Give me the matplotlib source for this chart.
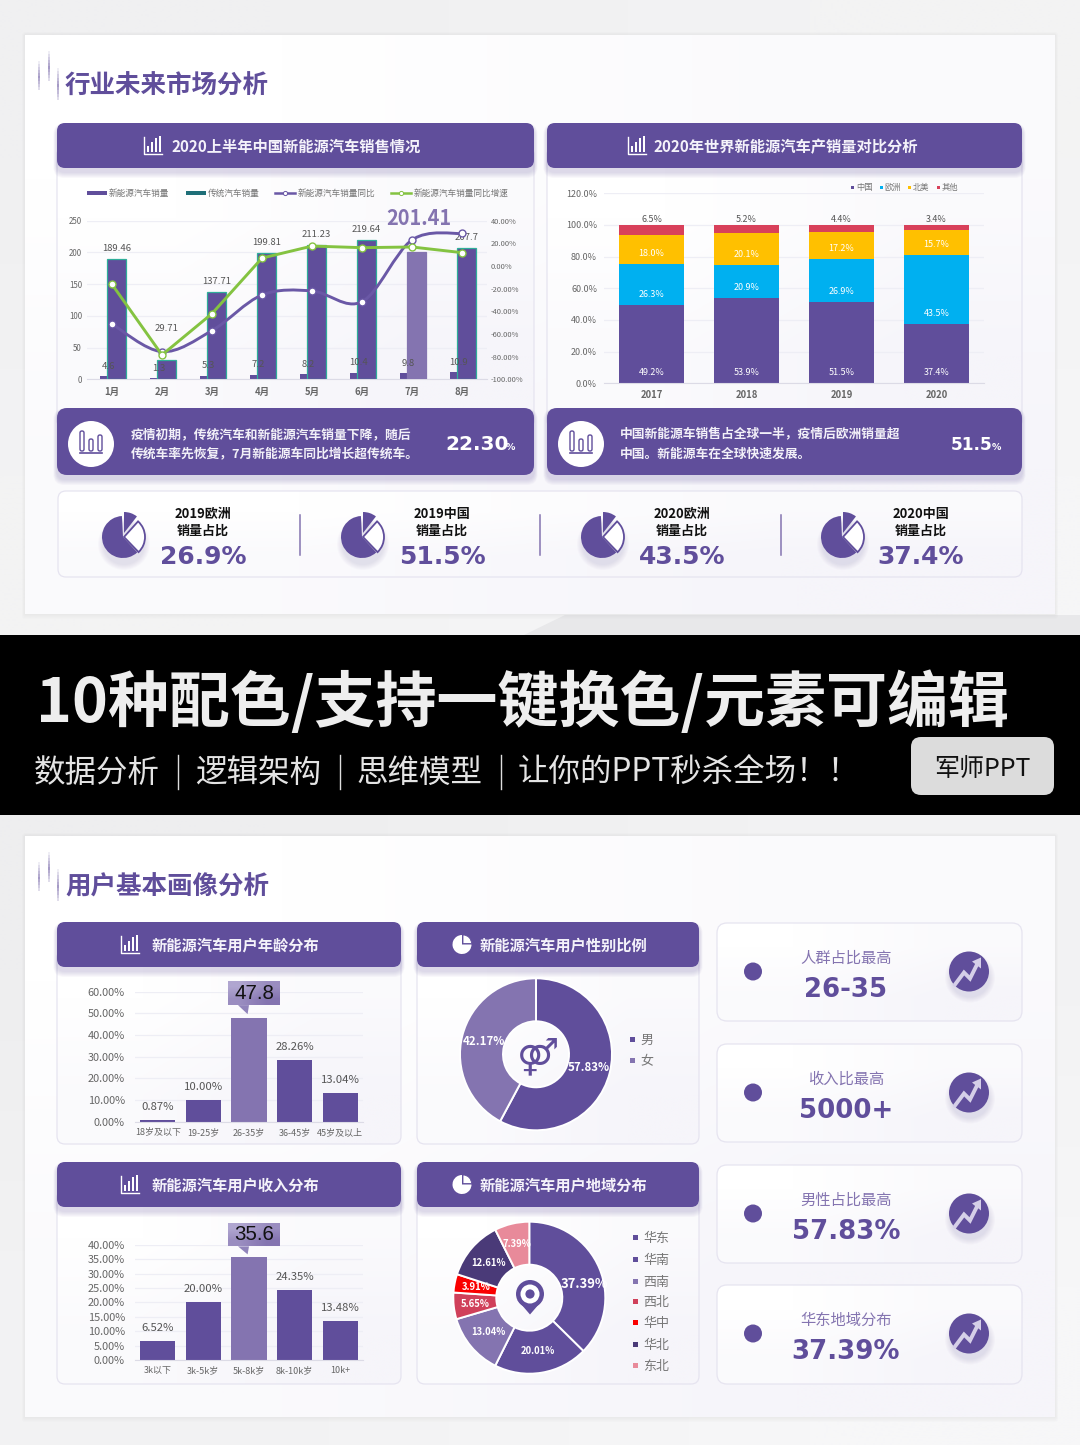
import numpy as np
import matplotlib
matplotlib.use("Agg")
import matplotlib.pyplot as plt
from matplotlib.patches import FancyBboxPatch, Circle, Wedge, Polygon, Rectangle, PathPatch
from matplotlib.path import Path
from matplotlib.colors import to_rgb

plt.rcParams['font.family'] = ['Noto Sans CJK SC', 'DejaVu Sans']

PURPLE = '#604e9b'
LIGHT = '#8474b0'
GREY = '#666666'

# chart 1
months = ['1月', '2月', '3月', '4月', '5月', '6月', '7月', '8月']
ev_sales = [4.6, 1.3, 5.3, 7.2, 8.2, 10.4, 9.8, 10.9]
car_sales = [189.46, 29.71, 137.71, 199.81, 211.23, 219.64, 201.41, 207.7]
ev_yoy = [-51.2, -75.6, -57.0, -25.6, -22.0, -31.5, 23.0, 28.8]
ev_growth = [-16.2, -78.5, -42.0, 7.0, 17.6, 16.2, 16.8, 11.8]

# chart 2
years = ['2017', '2018', '2019', '2020']
china = [49.2, 53.9, 51.5, 37.4]
europe = [26.3, 20.9, 26.9, 43.5]
namerica = [18.0, 20.1, 17.2, 15.7]
others = [6.5, 5.2, 4.4, 3.4]
stack_names = ['中国', '欧洲', '北美', '其他']
stack_colors = [PURPLE, '#00b0f0', '#ffc000', '#d8405a']

# bottom charts
age_cats = ['18岁及以下', '19-25岁', '26-35岁', '36-45岁', '45岁及以上']
age_vals = [0.87, 10.00, 47.8, 28.26, 13.04]
income_cats = ['3k以下', '3k-5k岁', '5k-8k岁', '8k-10k岁', '10k+']
income_vals = [6.52, 20.00, 35.6, 24.35, 13.48]
gender_names = ['男', '女']
gender_vals = [57.83, 42.17]
region_names = ['华东', '华南', '西南', '西北', '华中', '华北', '东北']
region_vals = [37.39, 20.01, 13.04, 5.65, 3.91, 12.61, 7.39]
region_colors = [PURPLE, PURPLE, LIGHT, '#d0405a', '#fa0000', '#4a3a78', '#e88a9a']

# strips
strip_labels = [('2019欧洲', '26.9%'), ('2019中国', '51.5%'), ('2020欧洲', '43.5%'), ('2020中国', '37.4%')]
card_labels = [('人群占比最高', '26-35'), ('收入比最高', '5000+'), ('男性占比最高', '57.83%'), ('华东地域分布', '37.39%')]

W, H = 1080, 1445
fig = plt.figure(figsize=(W / 100, H / 100), dpi=100)


def overlay(z):
    a = fig.add_axes([0, 0, 1, 1], zorder=z)
    a.set_xlim(0, W)
    a.set_ylim(H, 0)
    a.axis('off')
    a.patch.set_alpha(0)
    a.set_autoscale_on(False)
    return a


bg = overlay(0)
top = overlay(5)


def chart_axes(x0, y0, x1, y1):
    a = fig.add_axes([x0 / W, 1 - y1 / H, (x1 - x0) / W, (y1 - y0) / H], zorder=2)
    a.patch.set_alpha(0)
    return a


def T(a, x, y, s, px, color='white', weight='normal', ha='center', va='center', **kw):
    # the CJK face sits high in its box
    if 'family' not in kw:
        y = y + 0.08 * px
    return a.text(x, y, s, fontsize=px * 0.72, color=color, fontweight=weight, ha=ha, va=va, **kw)


def rbox(a, x0, y0, x1, y1, r=8, fc='white', ec='none', lw=0, alpha=None, z=1):
    p = FancyBboxPatch((x0, y0), x1 - x0, y1 - y0, boxstyle='round,pad=0,rounding_size=%g' % r,
                       fc=fc, ec=ec, lw=lw, alpha=alpha, zorder=z)
    a.add_patch(p)
    return p


def gradient(a, x0, y0, x1, y1, c0, c1, r=0, z=1):
    c0, c1 = np.array(to_rgb(c0)), np.array(to_rgb(c1))
    arr = np.array([[c0, (c0 + c1) / 2], [(c0 + c1) / 2, c1]])
    im = a.imshow(arr, extent=(x0, x1, y1, y0), aspect='auto', interpolation='bilinear', zorder=z)
    if r:
        clip = FancyBboxPatch((x0, y0), x1 - x0, y1 - y0, boxstyle='round,pad=0,rounding_size=%g' % r,
                              fc='none', ec='none', transform=a.transData)
        a.add_patch(clip)
        im.set_clip_path(clip)
    return im


def shadow(a, x0, y0, x1, y1, dy=4, spread=6, r=8, z=1, col='#5a4a9a', alpha=0.035):
    for s in range(spread, 0, -1):
        rbox(a, x0 - s * 0.6, y0 + dy - s * 0.6, x1 + s * 0.6, y1 + dy + s, r=r + s * 0.5, fc=col, alpha=alpha, z=z)


def card(x0, y0, x1, y1, r=8, z=1.5):
    gradient(bg, x0, y0, x1, y1, '#ffffff', '#f6f5fa', r=r, z=z)
    rbox(bg, x0, y0, x1, y1, r=r, fc='none', ec='#e6e4f0', lw=0.9, z=z + 0.1)


def vwedge(a, cx, cy, r, a1, a2, **kw):
    # angles as seen on screen, the pixel axes are flipped
    p = Wedge((cx, cy), r, -a2, -a1, **kw)
    a.add_patch(p)
    return p


def header(x0, y0, x1, y1, text, tx, ix, icon='bar', size=15.3):
    shadow(bg, x0, y0, x1, y1, z=3)
    rbox(bg, x0, y0, x1, y1, r=8, fc=PURPLE, z=3.2)
    cy = (y0 + y1) / 2
    T(bg, tx, cy, text, size, weight='bold', ha='left', zorder=4, color='#f4f2fa')
    if icon == 'bar':
        bg.plot([ix - 9, ix - 9, ix + 9], [cy - 9, cy + 8, cy + 8], color='white', lw=1, zorder=4)
        for dx, h in [(-5, 6), (-1, 10), (3, 14), (7, 16)]:
            bg.add_patch(Rectangle((ix + dx - 1, cy + 6 - h), 2.2, h, fc='white', zorder=4))
    else:
        vwedge(bg, ix, cy, 9.5, 90, 360, fc='white', zorder=4)
        vwedge(bg, ix + 1, cy - 1, 8.5, 0, 90, fc='white', ec=PURPLE, lw=0.6, zorder=4)


def section_title(y, text):
    for x, y0, y1 in [(39, y - 23, y + 6), (49, y - 33, y - 3), (58, y - 16, y + 16)]:
        for i in range(10):
            bg.plot([x, x], [y0 + (y1 - y0) * i / 10, y0 + (y1 - y0) * (i + 1) / 10], color='#7a6bab',
                    lw=1.3, alpha=0.75 * (1 - abs(i - 5) / 6), solid_capstyle='butt', zorder=2)
    T(bg, 65, y, text, 25.5, color=PURPLE, weight='bold', ha='left', zorder=3)


def style_axes(a, ymax, step, ylab_px, xlab_px, xweight='normal', pad_y=5, pad_x=4, fmt='%.2f%%'):
    ticks = np.arange(0, ymax + step / 2, step)
    a.set_ylim(0, ymax)
    a.set_yticks(ticks)
    a.set_yticklabels([fmt % t for t in ticks], fontsize=ylab_px * 0.72, color=GREY)
    a.tick_params(axis='y', length=0, pad=pad_y * 0.72)
    a.tick_params(axis='x', length=0, pad=pad_x * 0.72, labelsize=xlab_px * 0.72, labelcolor=GREY)
    for lab in a.get_xticklabels():
        lab.set_fontweight(xweight)
    a.grid(axis='y', color='#eeeef5', lw=0.9)
    a.set_axisbelow(True)
    for k in ['top', 'left', 'right']:
        a.spines[k].set_visible(False)
    a.spines['bottom'].set_color('#dcdbe6')


def to_px(a, x, y):
    fx, fy = a.transData.transform((x, y))
    return fx, H - fy


def smooth_path(xs, ys):
    # catmull-rom through the points, same look as an office "smoothed" line
    verts = [(xs[0], ys[0])]
    codes = [Path.MOVETO]
    n = len(xs)
    for i in range(n - 1):
        p0 = (xs[max(i - 1, 0)], ys[max(i - 1, 0)])
        p1 = (xs[i], ys[i])
        p2 = (xs[i + 1], ys[i + 1])
        p3 = (xs[min(i + 2, n - 1)], ys[min(i + 2, n - 1)])
        c1 = (p1[0] + (p2[0] - p0[0]) / 6, p1[1] + (p2[1] - p0[1]) / 6)
        c2 = (p2[0] - (p3[0] - p1[0]) / 6, p2[1] - (p3[1] - p1[1]) / 6)
        verts += [c1, c2, p2]
        codes += [Path.CURVE4] * 3
    return Path(verts, codes)


# page background
bg.add_patch(Rectangle((0, 0), W, H, fc='#f3f3f4', zorder=0))
gradient(bg, 0, 0, W, 635, '#f0f0f1', '#f6f6f7', z=0.1)
bg.add_patch(Polygon([(524, 635), (565, 615), (W, 615), (W, 635)], fc='#e8e8ea', zorder=0.2))
gradient(bg, 0, 815, W, H, '#eeeeef', '#f7f7f8', z=0.1)
bg.add_patch(Rectangle((0, 635), W, 180, fc='black', zorder=6))

for y0, y1 in [(35, 614), (836, 1417)]:
    shadow(bg, 25, y0, 1055, y1, dy=0, spread=5, r=1, z=0.5, col='#cccccc', alpha=0.05)
    gradient(bg, 25, y0, 1055, y1, '#ffffff', '#f6f5fa', z=1)

section_title(84, '行业未来市场分析')
section_title(885, '用户基本画像分析')

# ---- black band
T(bg, 36, 698, '10种配色/支持一键换色/元素可编辑', 61, color='#eeeeee', weight='bold', ha='left', zorder=7)
for x, s in [(34, '数据分析'), (195, '逻辑架构'), (357, '思维模型'), (518, '让你的PPT秒杀全场！！')]:
    T(bg, x, 770, s, 31.5, color='#e4e4e4', weight='normal', ha='left', zorder=7)
for x in [178, 340, 501]:
    bg.plot([x, x], [755, 789], color='#dddddd', lw=1, zorder=7)
rbox(bg, 911, 737, 1054, 795, r=10, fc='#dcdcdc', z=7)
T(bg, 982, 767, '军师PPT', 25, color='#111111', zorder=8)

# ---- top panels
card(57, 150, 534, 425, r=4)
card(547, 150, 1022, 425, r=4)
header(57, 123, 534, 168, '2020上半年中国新能源汽车销售情况', 171, 153)
header(547, 123, 1022, 168, '2020年世界新能源汽车产销量对比分析', 653, 637)

# chart 1, bars and lines
ax1 = chart_axes(87, 220.7, 487, 379.3)
x = np.arange(len(months))
ax1.bar(x - 0.05, ev_sales, width=0.375, color=PURPLE, zorder=2)
bar_cols = [LIGHT if m == '7月' else PURPLE for m in months]
bars = ax1.bar(x + 0.09, car_sales, width=0.375, color=bar_cols, edgecolor='#2fae9a', lw=0.9, zorder=3)
bars[6].set_edgecolor(LIGHT)
ax1.set_xlim(-0.5, 7.5)
ax1.set_xticks(x)
ax1.set_xticklabels(months, fontweight='bold')
style_axes(ax1, 250, 50, 8, 9.5, xweight='bold', fmt='%d', pad_x=7.5)
for i, v in enumerate(car_sales):
    if months[i] == '7月':
        ax1.annotate('%.2f' % v, (i + 0.13, v), xytext=(0, 33 * 0.72), textcoords='offset points', ha='center',
                     va='center', fontsize=20 * 0.72, fontweight='bold', color=LIGHT, zorder=8)
    else:
        off = 32 if months[i] == '2月' else 10.5
        ax1.annotate('%g' % v, (i + 0.09, v), xytext=(0, off * 0.72), textcoords='offset points', ha='center',
                     va='center', fontsize=9.5 * 0.72, color='#555555', zorder=8)
for i, v in enumerate(ev_sales):
    ax1.annotate('%g' % v, (i - 0.07, v), xytext=(0, 10 * 0.72), textcoords='offset points', ha='center',
                 va='center', fontsize=9.5 * 0.72, color='#555555', zorder=8)

ax1b = ax1.twinx()
ax1b.patch.set_alpha(0)
ax1b.set_ylim(-100, 40)
rt = np.arange(-100, 41, 20)
ax1b.set_yticks(rt)
ax1b.set_yticklabels(['%.2f%%' % t for t in rt], fontsize=7.5 * 0.72, color=GREY)
ax1b.tick_params(axis='y', length=0, pad=4 * 0.72)
for k in ax1b.spines:
    ax1b.spines[k].set_visible(False)
ax1b.add_patch(PathPatch(smooth_path(x, ev_yoy), fc='none', ec='#6a58a6', lw=2.1, zorder=4))
ax1b.plot(x, ev_yoy, ls='none', marker='o', ms=5, mfc='white', mec='#6a58a6', mew=1, zorder=5)
ax1b.plot(x, ev_growth, color='#84c341', lw=2.1, marker='o', ms=5, mfc='white', mec='#84c341', mew=1, zorder=6)

# chart 1 legend
ly = 193
top.add_patch(Rectangle((87, ly - 2), 20, 4, fc=PURPLE))
top.add_patch(Rectangle((186, ly - 2), 20, 4, fc='#1f6f78'))
top.plot([275, 295], [ly, ly], color='#6a58a6', lw=1.8, marker='', zorder=2)
top.plot([285], [ly], marker='o', ms=3, mfc='white', mec='#6a58a6', mew=0.7, zorder=3)
top.plot([391, 411], [ly, ly], color='#84c341', lw=1.8, zorder=2)
top.plot([401], [ly], marker='o', ms=3, mfc='white', mec='#84c341', mew=0.7, zorder=3)
for lx, s in [(109, '新能源汽车销量'), (208, '传统汽车销量'), (298, '新能源汽车销量同比'), (414, '新能源汽车销量同比增速')]:
    T(top, lx, ly, s, 8.7, color='#777777', ha='left')

# chart 2, stacked
ax2 = chart_axes(604, 193.3, 984, 383.3)
x2 = np.arange(len(years))
base = np.zeros(4)
for vals, col, name in zip([china, europe, namerica, others], stack_colors, stack_names):
    ax2.bar(x2, vals, bottom=base, width=0.674, color=col, zorder=2, label=name)
    for i, v in enumerate(vals):
        if name == '其他':
            ax2.annotate('%.1f%%' % v, (i, 100), xytext=(0, 5 * 0.72), textcoords='offset points', ha='center',
                         va='center', fontsize=9 * 0.72, color='#555555')
        else:
            ax2.annotate('%.1f%%' % v, (i, base[i]), xytext=(0, 10.5 * 0.72), textcoords='offset points', ha='center',
                         va='center', fontsize=9 * 0.72, color='white', zorder=4)
    base = base + np.array(vals)
ax2.set_xlim(-0.5, 3.5)
ax2.set_xticks(x2)
ax2.set_xticklabels(years, fontweight='bold')
style_axes(ax2, 120, 20, 9, 9.5, xweight='bold', pad_y=7, fmt='%.1f%%', pad_x=6.5)

for lx, col, s in zip([852.7, 881, 909.7, 938], stack_colors, stack_names):
    top.add_patch(Rectangle((lx - 1.5, 185.5), 3, 3, fc=col))
    T(top, lx + 3.5, 187, s, 8.3, color='#777777', ha='left')

# purple note boxes
notes = [(57, 534, 91, 131, ['疫情初期，传统汽车和新能源汽车销量下降，随后', '传统车率先恢复，7月新能源车同比增长超传统车。'], '22.30', 445, 506, 20),
         (547, 1022, 581, 620, ['中国新能源车销售占全球一半，疫情后欧洲销量超', '中国。新能源车在全球快速发展。'], '51.5', 951, 992, 17)]
for x0, x1, cx, tx, lines, num, nx, px, nsize in notes:
    shadow(bg, x0, 408, x1, 475, z=3)
    rbox(bg, x0, 408, x1, 475, r=10, fc=PURPLE, z=3.2)
    bg.add_patch(Circle((cx, 444), 23, fc='white', zorder=4))
    for dx, h in [(-9, 20), (0, 12), (9, 16)]:
        rbox(bg, cx + dx - 2, 451 - h, cx + dx + 2, 451, r=1.8, fc='none', ec=PURPLE, lw=1, z=5)
    bg.plot([cx - 11, cx + 11], [453, 453], color=PURPLE, lw=1.2, zorder=5)
    T(bg, tx, 434, lines[0], 12.8, weight='bold', ha='left', zorder=5, color='#f2f0f8')
    T(bg, tx, 453, lines[1], 12.8, weight='bold', ha='left', zorder=5, color='#f2f0f8')
    T(bg, nx, 445, num, nsize, weight='bold', ha='left', zorder=5, family='DejaVu Sans')
    T(bg, px, 447, '%', 9.5, weight='bold', ha='left', zorder=5, family='DejaVu Sans')

# stat strip
card(58, 491, 1022, 577, r=8)
for cx, tx, (a, b) in zip([123, 362, 602, 842], [203, 442, 682, 921], strip_labels):
    for s in range(6, 0, -1):
        bg.add_patch(Circle((cx + 1, 544), 20 + s, fc='#5a4a9a', alpha=0.025, zorder=2))
    vwedge(bg, cx, 537, 21, 93, 313, fc=PURPLE, zorder=3)
    vwedge(bg, cx + 1, 533, 21, 52, 90, fc=PURPLE, zorder=3)
    vwedge(bg, cx + 1, 537, 21, -46, 48, fc='white', ec=PURPLE, lw=1.3, zorder=3)
    T(bg, tx, 513, a, 13, color='#111111', weight='bold', zorder=3)
    T(bg, tx, 530, '销量占比', 13, color='#111111', weight='bold', zorder=3)
    T(bg, tx, 557, b, 25, color=PURPLE, weight='bold', zorder=3, family='DejaVu Sans')
for dx in [300, 540, 781]:
    bg.plot([dx, dx], [515, 555], color=LIGHT, lw=1.1, zorder=3)

# ---- bottom panels
for x0, x1, y0, y1 in [(57, 401, 950, 1144), (417, 699, 950, 1144), (57, 401, 1190, 1384), (417, 699, 1190, 1384)]:
    card(x0, y0, x1, y1, r=8)
header(57, 922, 401, 967, '新能源汽车用户年龄分布', 152, 130)
header(417, 922, 699, 967, '新能源汽车用户性别比例', 480, 462, icon='pie')
header(57, 1162, 401, 1207, '新能源汽车用户收入分布', 152, 130)
header(417, 1162, 699, 1207, '新能源汽车用户地域分布', 480, 462, icon='pie')


def simple_bars(box, cats, vals, ymax, step, tip, box_top, box_bot):
    a = chart_axes(*box)
    xs = np.arange(len(cats))
    cols = [LIGHT if i == 2 else PURPLE for i in xs]
    a.bar(xs, vals, width=0.77, color=cols, zorder=2)
    a.set_xlim(-0.5, 4.5)
    a.set_xticks(xs)
    a.set_xticklabels(cats)
    style_axes(a, ymax, step, 11, 9, pad_y=10, pad_x=6)
    for i, v in enumerate(vals):
        if i != 2:
            a.annotate('%.2f%%' % v, (i, v), xytext=(0, 13 * 0.72), textcoords='offset points', ha='center',
                       va='center', fontsize=11.3 * 0.72, color='#555555')
    px_x, px_y = to_px(a, 2, vals[2])
    gradient(top, px_x - 21, px_y - box_top, px_x + 31, px_y - box_bot, '#b0a6d0', '#8474b0', z=3)
    top.add_patch(Polygon([(px_x - 11, px_y - box_bot), (px_x, px_y - box_bot), (px_x - 1.4, px_y - tip)],
                          fc='#9184bb', zorder=3))
    T(top, px_x + 5, px_y - (box_top + box_bot) / 2, '%.1f' % vals[2], 20.5, color='#111111',
      family='Liberation Sans', zorder=4)
    return a


ax3 = simple_bars((135, 991.7, 363, 1121.7), age_cats, age_vals, 60, 10, 4, 37, 13)
ax4 = simple_bars((135, 1244.7, 363, 1360), income_cats, income_vals, 40, 5, 3, 34, 11)


def donut(cx, cy, r, hole, vals, cols):
    a = chart_axes(cx - r, cy - r, cx + r, cy + r)
    w, t, at = a.pie(vals, colors=cols, startangle=90, counterclock=False, autopct='%.2f%%', pctdistance=0.71,
                     wedgeprops=dict(width=1 - hole / r, edgecolor='white', linewidth=1.4),
                     textprops=dict(color='white', fontweight='bold'))
    a.set_xlim(-1, 1)
    a.set_ylim(-1, 1)
    return a, at


ax5, at5 = donut(536, 1054.3, 76, 33, gender_vals, [PURPLE, LIGHT])
for lab in at5:
    lab.set_fontsize(11.5 * 0.72)
T(top, 538, 1056, '⚤', 36, color=PURPLE, weight='bold', family='DejaVu Sans')
for yy, col, s in zip([1039.7, 1060.7], [PURPLE, LIGHT], gender_names):
    top.add_patch(Rectangle((630, yy - 2.5), 5, 5, fc=col))
    T(top, 640, yy, s, 13, color='#777777', ha='left')

ax6, at6 = donut(529.3, 1297.7, 76, 33, region_vals, region_colors)
for lab in at6:
    lab.set_fontsize(9.5 * 0.72)
at6[0].set_fontsize(13 * 0.72)
at6[0].set_position((0.73, 0.18))
at6[6].set_position((-0.17, 0.71))
# pin in the hole
top.add_patch(Circle((530, 1294), 14, fc=PURPLE))
top.add_patch(Polygon([(517.5, 1300), (542.5, 1300), (530, 1314.5)], fc=PURPLE))
top.add_patch(Circle((530, 1294), 9.5, fc='white'))
top.add_patch(Circle((530, 1294), 4.6, fc=PURPLE))
for yy, col, s in zip([1237.7, 1259.3, 1281, 1301.7, 1322.3, 1344, 1365], region_colors, region_names):
    top.add_patch(Rectangle((633, yy - 2.5), 5, 5, fc=col))
    T(top, 643, yy, s, 13, color='#777777', ha='left')

# right cards
for (y0, y1), (a, b) in zip([(923, 1021), (1044, 1142), (1165, 1263), (1285, 1384)], card_labels):
    card(717, y0, 1022, y1, r=10)
    bg.add_patch(Circle((753, y0 + 48.5), 9, fc=PURPLE, zorder=3))
    T(bg, 846, y0 + 34, a, 15.3, color=LIGHT, weight='normal', zorder=3)
    T(bg, 846, y0 + 67, b, 26, color=PURPLE, weight='bold', zorder=3, family='DejaVu Sans')
    ic = (969, y0 + 48.5)
    for s in range(6, 0, -1):
        bg.add_patch(Circle((ic[0] + 1, ic[1] + 6), 19 + s, fc='#5a4a9a', alpha=0.025, zorder=2.5))
    bg.add_patch(Circle(ic, 20, fc=PURPLE, zorder=3))
    bg.plot([ic[0] - 14, ic[0] - 5, ic[0] + 1, ic[0] + 8], [ic[1] + 13, ic[1] + 1, ic[1] + 7, ic[1] - 7],
            color='#d5cfe8', lw=2.8, solid_joinstyle='miter', zorder=4)
    bg.add_patch(Polygon([(ic[0] + 3, ic[1] - 10), (ic[0] + 12, ic[1] - 14), (ic[0] + 12, ic[1] - 3)],
                         fc='#d5cfe8', zorder=4))

fig.savefig('out.png', dpi=100)
